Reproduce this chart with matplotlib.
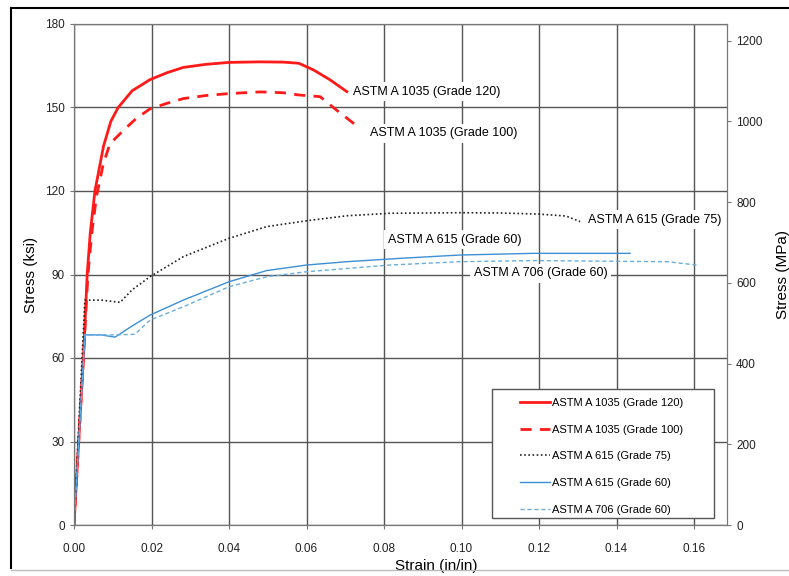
import matplotlib.pyplot as plt
from matplotlib.lines import Line2D
from matplotlib.patches import Rectangle

plt.rcParams['font.family'] = ['Liberation Sans', 'DejaVu Sans']

# strain (in/in) vs stress (ksi)
g120_strain = [0, 0.0025, 0.0034, 0.0042, 0.0054, 0.0076, 0.0095, 0.0114, 0.0150, 0.0196,
               0.0240, 0.0282, 0.0340, 0.0400, 0.0480, 0.0540, 0.0580, 0.0618, 0.0660, 0.0704]
g120_stress = [0, 62, 90, 105, 120, 136, 145, 150, 156, 160,
               162.5, 164.4, 165.5, 166.2, 166.4, 166.3, 165.9, 163.5, 160, 155.7]

g100_strain = [0, 0.0025, 0.0036, 0.0046, 0.0058, 0.0076, 0.0093, 0.0127, 0.0160, 0.0196,
               0.0240, 0.0282, 0.0340, 0.0400, 0.0480, 0.0540, 0.0580, 0.0635, 0.0678, 0.0738]
g100_stress = [0, 62, 90, 105, 118, 130, 137, 141.7, 146, 149.5,
               151.5, 153.2, 154.3, 155, 155.6, 155.3, 154.5, 153.9, 149, 142.5]

g75_strain = [0, 0.0028, 0.0070, 0.0119, 0.0150, 0.0196, 0.0282, 0.040, 0.0497, 0.060,
              0.0704, 0.0815, 0.0996, 0.1100, 0.120, 0.127, 0.1306]
g75_stress = [0, 80.8, 80.8, 80, 84.5, 89.2, 96.4, 103, 107.2, 109.3,
              111.1, 112, 112.2, 112.1, 111.7, 111, 109]

a615_60_strain = [0, 0.0028, 0.0070, 0.0106, 0.0150, 0.0196, 0.0282, 0.040, 0.0497, 0.060,
                  0.0704, 0.0841, 0.0996, 0.1185, 0.1435]
a615_60_stress = [0, 68.3, 68.3, 67.5, 71.5, 75.4, 80.8, 87.4, 91.4, 93.4,
                  94.6, 95.8, 97, 97.6, 97.6]

a706_60_strain = [0, 0.0028, 0.0100, 0.0157, 0.0196, 0.0282, 0.040, 0.0497, 0.060,
                  0.0815, 0.0996, 0.1185, 0.1530, 0.1607]
a706_60_stress = [0, 68.3, 68.3, 68.5, 73.6, 78.4, 85.6, 89.2, 91,
                  93.4, 94.6, 95, 94.6, 93.4]

labels = ["ASTM A 1035 (Grade 120)", "ASTM A 1035 (Grade 100)", "ASTM A 615 (Grade 75)",
          "ASTM A 615 (Grade 60)", "ASTM A 706 (Grade 60)"]

KSI_TO_MPA = 6.895
W, H = 789, 576

fig = plt.figure(figsize=(7.89, 5.76), dpi=100)
ax = fig.add_axes([74 / W, 1 - 525 / H, (727 - 74) / W, (525 - 24) / H])

ax.plot(g120_strain, g120_stress, color="#ff1a1a", lw=2.0, label=labels[0])
ax.plot(g100_strain, g100_stress, color="#ff1a1a", lw=2.0, dashes=(4, 3), label=labels[1])
ax.plot(g75_strain, g75_stress, color="#222222", lw=1.2, dashes=(1, 1.5), label=labels[2])
ax.plot(a615_60_strain, a615_60_stress, color="#3d8fd4", lw=1.0, label=labels[3])
ax.plot(a706_60_strain, a706_60_stress, color="#6aaee0", lw=1.0, dashes=(3, 2), label=labels[4])

ax.set_xlim(0, 0.1685)
ax.set_ylim(0, 180)
ax.set_xticks([0, 0.02, 0.04, 0.06, 0.08, 0.10, 0.12, 0.14, 0.16])
ax.set_xticklabels([f"{v:.2f}" for v in ax.get_xticks()])
ax.set_yticks(range(0, 181, 30))
ax.grid(True, color="#555555", lw=1.0)
for s in ax.spines.values():
    s.set_color("#777777")
ax.tick_params(labelsize=8.5, length=3, color="#777777", colors="#222222")
ax.tick_params(axis="x", pad=10)
ax.set_xlabel("Strain (in/in)", fontsize=11)
ax.xaxis.set_label_coords((436 - 74) / 653, -0.068)
ax.set_ylabel("Stress (ksi)", fontsize=11, labelpad=5)

ax2 = ax.twinx()
ax2.set_ylim(0, 180 * KSI_TO_MPA)
ax2.set_yticks(range(0, 1201, 200))
for s in ax2.spines.values():
    s.set_color("#777777")
ax2.tick_params(labelsize=8.5, length=3, color="#777777", colors="#222222")
ax2.set_ylabel("Stress (MPa)", fontsize=11, labelpad=10)

# curve labels, on white so the grid breaks behind them (but under the curves)
bg = dict(facecolor="white", edgecolor="none", pad=2.5)
ax.text(0.072, 155.6, labels[0], fontsize=9, va="center", bbox=bg, zorder=1.8)
ax.text(0.0764, 140.8, labels[1], fontsize=9, va="center", bbox=bg, zorder=1.8)
ax.text(0.1327, 109.6, labels[2], fontsize=9, va="center", bbox=bg, zorder=1.8)
ax.text(0.081, 102.4, labels[3], fontsize=9, va="center", bbox=bg, zorder=1.8)
ax.text(0.1032, 90.5, labels[4], fontsize=9, va="center", bbox=bg, zorder=1.8)

# legend box drawn separately so the left margin can be wider than the top one
box = Rectangle((492 / W, 1 - 518 / H), (714 - 492) / W, (518 - 389) / H,
                transform=fig.transFigure, facecolor="white", edgecolor="#555555",
                lw=1.0, zorder=4)
fig.add_artist(box)
leg = fig.legend(*ax.get_legend_handles_labels(), loc="upper left",
                 bbox_to_anchor=(520 / W, 1 - 398 / H), fontsize=8, frameon=False,
                 labelspacing=1.5, handlelength=2.7, handletextpad=0.15,
                 borderpad=0, borderaxespad=0)
leg.set_zorder(5)

# screenshot frame
fig.add_artist(Line2D([11 / W, 1], [1 - 8 / H] * 2, color="black", lw=1.5))
fig.add_artist(Line2D([11 / W] * 2, [1 - 8 / H, 1 - 568 / H], color="black", lw=1.5))
fig.add_artist(Line2D([11 / W, 1], [1 - 570 / H] * 2, color="#bbbbbb", lw=1.0))

fig.savefig("out.png", dpi=100)
